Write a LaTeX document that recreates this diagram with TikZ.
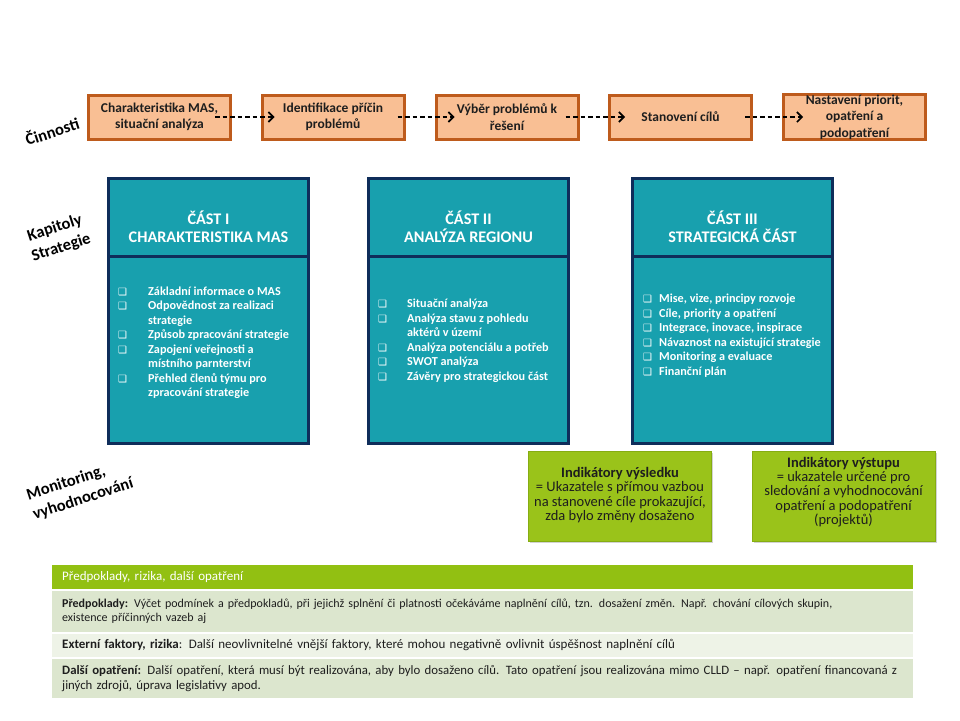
\documentclass[tikz,border=0pt]{standalone}
\usepackage{fontspec}
\setmainfont{Carlito}
\newfontfamily\dejavu{DejaVu Sans}
\usetikzlibrary{arrows.meta,shadows}
\definecolor{orfill}{HTML}{F9BF94}
\definecolor{ordraw}{HTML}{BE5B1C}
\definecolor{tealfill}{HTML}{18A0AE}
\definecolor{navyline}{HTML}{0F2D5A}
\definecolor{limefill}{HTML}{9AC31A}
\definecolor{limedraw}{HTML}{86AD12}
\definecolor{hdrgreen}{HTML}{92C012}
\definecolor{rowa}{HTML}{DCE6CE}
\definecolor{rowb}{HTML}{EEF3E7}
\definecolor{txtdark}{HTML}{1E1E1E}
\newcommand{\bul}[1]{\makebox[#1][l]{\dejavu\fontsize{10}{10}\selectfont ❑}}
\tikzset{
  actbox/.style={draw=ordraw, fill=orfill, line width=3pt, minimum width=142pt, minimum height=44pt,
    inner sep=0pt, align=center, text=txtdark, font=\fontsize{13.5}{16.5}\selectfont\bfseries},
  flowarrow/.style={draw=black, line width=1.6pt, dash pattern=on 4.5pt off 3pt,
    -{Straight Barb[length=5pt,width=10pt,line width=1.6pt]}},
  partbox/.style={draw=navyline, fill=tealfill, line width=3pt, minimum width=200pt, inner sep=0pt},
  parthead/.style={text=white, align=center, inner sep=0pt, font=\fontsize{16.2}{18.3}\selectfont\bfseries},
  partlist/.style={text=white, inner sep=0pt, anchor=west, font=\fontsize{12.2}{14.5}\selectfont\bfseries},
  sidelabel/.style={rotate=18, align=center, inner sep=0pt, text=black, font=\fontsize{16.5}{20.5}\selectfont\bfseries},
  indbox/.style={draw=limedraw, fill=limefill, line width=1pt, minimum width=183pt, minimum height=90pt,
    inner sep=0pt, drop shadow={shadow xshift=1.5pt, shadow yshift=-1.5pt, opacity=0.35}},
  indtext/.style={align=center, inner sep=0pt, text=txtdark, font=\fontsize{14.5}{14.3}\selectfont},
  tabrow/.style={anchor=west, text width=841pt, inner xsep=10pt, inner ysep=0pt, align=left,
    text=txtdark, font=\fontsize{12}{14.5}\selectfont},
}
\begin{document}
\begin{tikzpicture}[x=1pt,y=-1pt]
\useasboundingbox[fill=white] (0,0) rectangle (960,720);

% side labels
\node[sidelabel] (lab1) at (52,131) {Činnosti};
\node[sidelabel] (lab2) at (58,238) {Kapitoly\\Strategie};
\node[sidelabel, align=left] (lab3) at (80,489.5) {Monitoring,\\vyhodnocování};

% activities
\node[actbox] (a1) at (159.5,117) {Charakteristika MAS,\\situační analýza};
\node[actbox] (a2) at (333,117) {Identifikace příčin\\problémů};
\node[actbox] (a3) at (507,117) {Výběr problémů k\\řešení};
\node[actbox] (a4) at (680.5,117) {Stanovení cílů};
\node[actbox] (a5) at (854.5,117) {Nastavení priorit,\\opatření a\\podopatření};

\draw[flowarrow] ([xshift=-17pt]a1.east) -- ([xshift=14pt]a2.west);
\draw[flowarrow] ([xshift=-8pt]a2.east) -- ([xshift=20pt]a3.west);
\draw[flowarrow] ([xshift=-14pt]a3.east) -- ([xshift=17pt]a4.west);
\draw[flowarrow] ([xshift=-8pt]a4.east) -- ([xshift=21pt]a5.west);

% strategy parts
\node[partbox, minimum height=78pt] (h1) at (208.5,217) {};
\node[partbox, minimum height=187pt] (b1) at (208.5,349.5) {};
\node[partbox, minimum height=78pt] (h2) at (468.5,217) {};
\node[partbox, minimum height=187pt] (b2) at (468.5,349.5) {};
\node[partbox, minimum height=78pt] (h3) at (732.5,217) {};
\node[partbox, minimum height=187pt] (b3) at (732.5,349.5) {};

\node[parthead] (t1) at (208.5,227) {ČÁST I\\CHARAKTERISTIKA MAS};
\node[parthead] (t2) at (468.5,227) {ČÁST II\\ANALÝZA REGIONU};
\node[parthead] (t3) at (732.5,227) {ČÁST III\\STRATEGICKÁ ČÁST};

\node[partlist] (l1) at (118,343) {\begin{tabular}{@{}l@{}}
\bul{30pt}Základní informace o MAS\\
\bul{30pt}Odpovědnost  za realizaci\\
\hspace*{30pt}strategie\\
\bul{30pt}Způsob zpracování strategie\\
\bul{30pt}Zapojení  veřejnosti a\\
\hspace*{30pt}místního parnterství\\
\bul{30pt}Přehled členů týmu pro\\
\hspace*{30pt}zpracování strategie
\end{tabular}};
\node[partlist] (l2) at (378,341) {\begin{tabular}{@{}l@{}}
\bul{29pt}Situační analýza\\
\bul{29pt}Analýza stavu z pohledu\\
\hspace*{29pt}aktérů v území\\
\bul{29pt}Analýza potenciálu  a potřeb\\
\bul{29pt}SWOT analýza\\
\bul{29pt}Závěry pro  strategickou  část
\end{tabular}};
\node[partlist] (l3) at (643,336) {\begin{tabular}{@{}l@{}}
\bul{16pt}Mise, vize, principy  rozvoje\\
\bul{16pt}Cíle, priority a opatření\\
\bul{16pt}Integrace, inovace, inspirace\\
\bul{16pt}Návaznost na existující strategie\\
\bul{16pt}Monitoring  a evaluace\\
\bul{16pt}Finanční  plán
\end{tabular}};

% indicators
\node[indbox] (i1) at (620,496.5) {};
\node[indbox] (i2) at (843.5,496.5) {};
\node[indtext] (it1) at (620,495) {\textbf{Indikátory  výsledku}\\= Ukazatele s přímou vazbou\\na stanovené cíle prokazující,\\zda bylo změny dosaženo};
\node[indtext] (it2) at (843.5,492) {\textbf{Indikátory  výstupu}\\= ukazatele určené pro\\sledování a vyhodnocování\\opatření a podopatření\\(projektů)};

% table
\node[tabrow, fill=hdrgreen, minimum height=24pt, text=white, font=\fontsize{13}{15}\selectfont] (r1) at (52,577) {Předpoklady, rizika,  další  opatření};
\node[tabrow, fill=rowa, minimum height=41pt] (r2) at (52,611.5) {\textbf{Předpoklady:} Výčet  podmínek a předpokladů, při jejichž splnění či platnosti očekáváme naplnění cílů, tzn. dosažení změn.  Např. chování cílových skupin,\\existence příčinných vazeb aj};
\node[tabrow, fill=rowb, minimum height=23pt, font=\fontsize{13}{15}\selectfont] (r3) at (52,645.5) {\textbf{Externí faktory, rizika}:  Další neovlivnitelné vnější faktory, které mohou negativně ovlivnit úspěšnost naplnění cílů};
\node[tabrow, fill=rowa, minimum height=39pt, font=\fontsize{12.8}{15}\selectfont] (r4) at (52,678.5) {\textbf{Další  opatření:} Další opatření, která musí být realizována, aby bylo dosaženo cílů. Tato opatření jsou realizována mimo CLLD – např. opatření financovaná z\\jiných zdrojů, úprava legislativy apod.};
\end{tikzpicture}
\end{document}
